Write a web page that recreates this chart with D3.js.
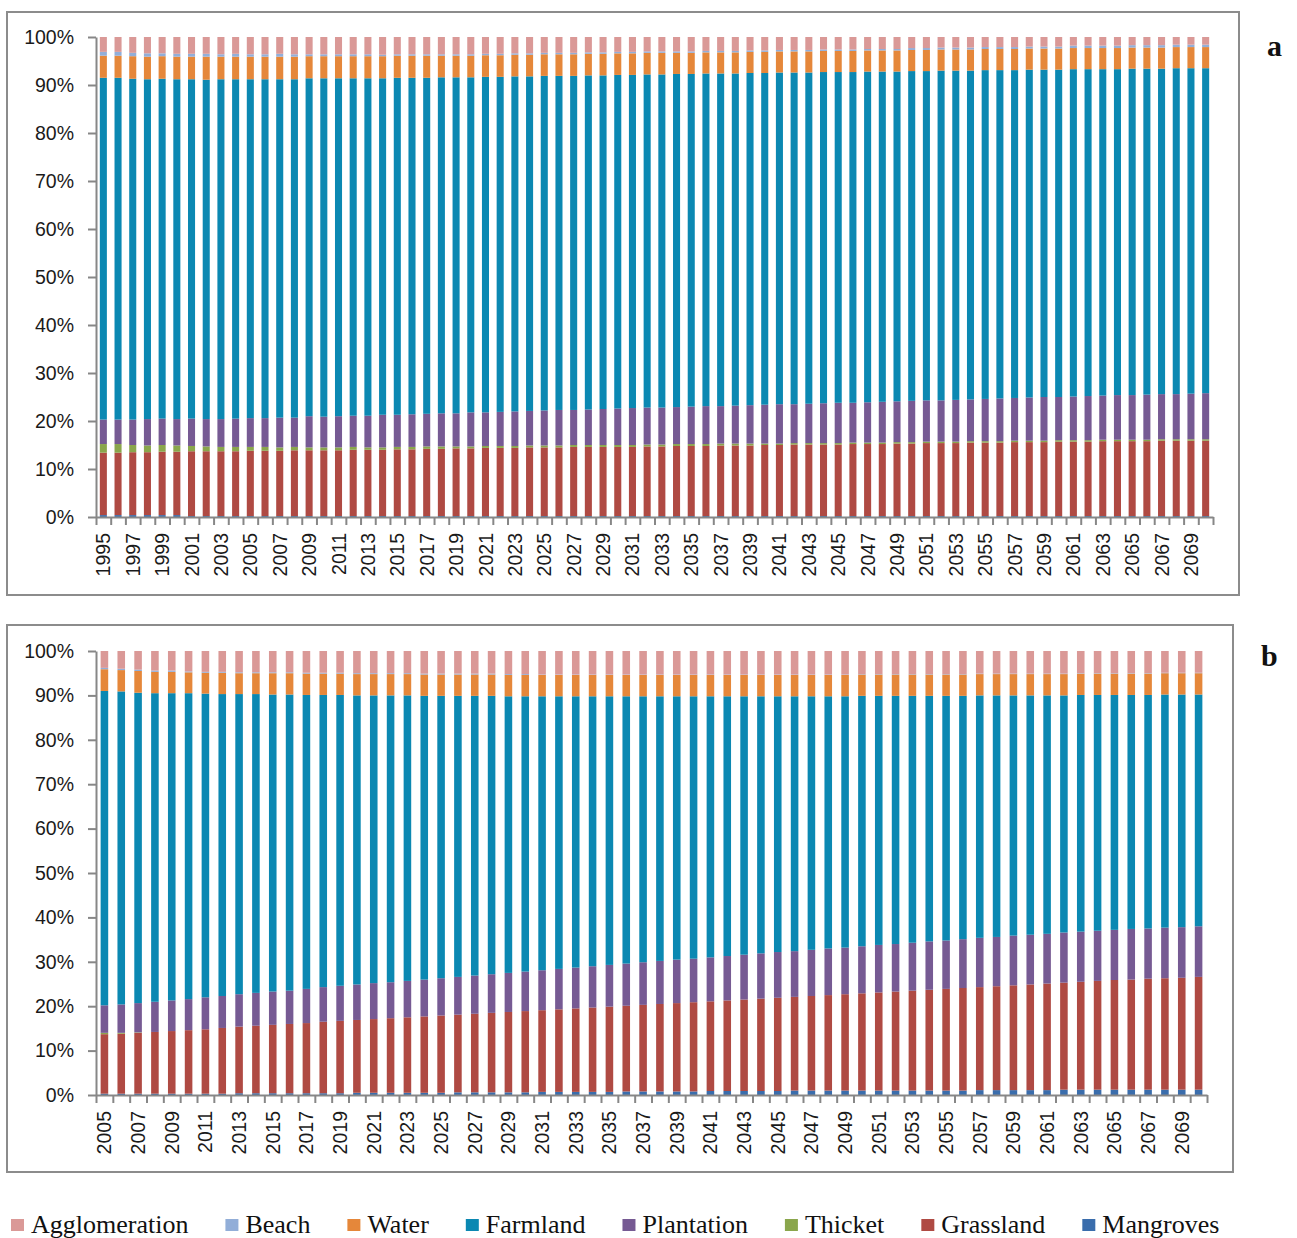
<!DOCTYPE html>
<html>
<head>
<meta charset="utf-8">
<title>Land use shares</title>
<script src="https://cdn.jsdelivr.net/npm/d3@7"></script>
<style>
body{margin:0;background:#fff;}
svg{display:block;}
</style>
</head>
<body>
<div id="chart"></div>
<script>
var W=1297,H=1238;

// stacking order, bottom to top
var keys=['Mangroves','Grassland','Thicket','Plantation','Farmland','Water','Beach','Agglomeration'];
var legendOrder=['Agglomeration','Beach','Water','Farmland','Plantation','Thicket','Grassland','Mangroves'];
var colors={
  Agglomeration:'#DA9997',
  Beach:'#92AED8',
  Water:'#E5873A',
  Farmland:'#0B88B2',
  Plantation:'#765A93',
  Thicket:'#8AA64C',
  Grassland:'#AF4A43',
  Mangroves:'#3A6DAC'
};

// ---- panel a : 1995-2070 ----
var yearsA=d3.range(1995,2071);
var mangrovesA=[0.4,0.4,0.4,0.4,0.4,0.4,0.2,0.2,0.2,0.2,
  0.2,0.2,0.2,0.2,0.2,0.2,0.2,0.2,0.2,0.2,
  0.2,0.2,0.2,0.2,0.2,0.2,0.2,0.2,0.2,0.2,
  0.2,0.2,0.2,0.2,0.2,0.2,0.2,0.2,0.2,0.2,
  0.2,0.2,0.2,0.2,0.2,0.2,0.2,0.2,0.2,0.2,
  0.2,0.2,0.2,0.2,0.2,0.2,0.2,0.2,0.2,0.2,
  0.2,0.2,0.2,0.2,0.2,0.2,0.2,0.2,0.2,0.2,
  0.2,0.2,0.2,0.2,0.2,0.2];
var grasslandA=[13.0,13.0,13.1,13.1,13.2,13.2,13.5,13.5,13.5,13.5,
  13.6,13.6,13.6,13.7,13.7,13.7,13.7,13.8,13.8,13.8,
  13.9,13.9,14.0,14.0,14.1,14.1,14.2,14.2,14.2,14.3,
  14.3,14.3,14.4,14.4,14.4,14.4,14.4,14.5,14.5,14.6,
  14.6,14.6,14.7,14.7,14.7,14.8,14.8,14.9,14.9,14.9,
  14.9,15.0,15.0,15.0,15.1,15.1,15.2,15.2,15.2,15.3,
  15.3,15.3,15.4,15.4,15.4,15.5,15.5,15.5,15.6,15.6,
  15.6,15.6,15.7,15.7,15.7,15.7];
var thicketA=[1.8,1.8,1.5,1.4,1.4,1.3,1.1,1.0,0.9,0.9,
  0.8,0.8,0.7,0.7,0.6,0.6,0.6,0.6,0.5,0.5,
  0.5,0.5,0.5,0.5,0.4,0.4,0.4,0.4,0.4,0.4,
  0.4,0.4,0.4,0.4,0.4,0.4,0.4,0.4,0.4,0.4,
  0.4,0.4,0.4,0.4,0.4,0.3,0.3,0.3,0.3,0.3,
  0.3,0.3,0.3,0.3,0.3,0.3,0.3,0.3,0.3,0.3,
  0.3,0.3,0.3,0.3,0.3,0.3,0.3,0.3,0.3,0.3,
  0.3,0.3,0.3,0.3,0.3,0.3];
var plantationA=[5.1,5.1,5.3,5.5,5.5,5.5,5.7,5.7,5.8,5.9,
  6.0,6.0,6.2,6.1,6.5,6.4,6.5,6.5,6.6,6.8,
  6.7,6.8,6.8,6.9,6.9,7.1,7.0,7.1,7.2,7.2,
  7.3,7.4,7.3,7.4,7.5,7.6,7.7,7.7,7.7,7.7,
  7.8,7.9,7.8,7.9,8.0,8.1,8.2,8.1,8.2,8.3,
  8.4,8.3,8.4,8.5,8.5,8.6,8.6,8.6,8.7,8.7,
  8.8,8.9,8.9,9.0,9.1,9.0,9.1,9.2,9.2,9.3,
  9.3,9.4,9.4,9.4,9.5,9.6];
var farmlandA=[71.2,71.2,71.0,70.8,70.8,70.8,70.7,70.7,70.8,70.7,
  70.6,70.6,70.5,70.5,70.4,70.5,70.4,70.3,70.3,70.1,
  70.2,70.1,70.0,70.0,70.0,69.8,69.9,69.8,69.8,69.7,
  69.7,69.6,69.6,69.6,69.5,69.5,69.4,69.4,69.4,69.4,
  69.3,69.3,69.3,69.2,69.2,69.1,69.1,69.1,69.0,69.0,
  68.9,68.9,68.9,68.8,68.7,68.7,68.6,68.7,68.6,68.5,
  68.5,68.4,68.3,68.3,68.2,68.2,68.2,68.1,68.0,67.9,
  68.0,67.9,67.8,67.9,67.8,67.7];
var waterA=[4.6,4.6,4.7,4.7,4.7,4.7,4.7,4.8,4.7,4.7,
  4.7,4.7,4.7,4.7,4.6,4.6,4.6,4.6,4.6,4.6,
  4.6,4.6,4.6,4.5,4.5,4.5,4.5,4.5,4.5,4.5,
  4.5,4.5,4.5,4.5,4.5,4.5,4.5,4.5,4.5,4.4,
  4.4,4.4,4.4,4.4,4.4,4.4,4.4,4.4,4.4,4.4,
  4.4,4.4,4.4,4.4,4.4,4.4,4.4,4.4,4.4,4.4,
  4.4,4.4,4.4,4.4,4.4,4.4,4.4,4.4,4.4,4.4,
  4.4,4.4,4.4,4.4,4.4,4.4];
var beachA=[0.8,0.8,0.7,0.7,0.6,0.6,0.6,0.6,0.5,0.6,
  0.5,0.5,0.6,0.5,0.4,0.4,0.4,0.4,0.4,0.3,
  0.3,0.3,0.3,0.3,0.3,0.3,0.3,0.3,0.3,0.3,
  0.3,0.3,0.3,0.3,0.3,0.3,0.3,0.3,0.3,0.3,
  0.3,0.3,0.3,0.3,0.3,0.3,0.3,0.3,0.3,0.3,
  0.3,0.3,0.3,0.3,0.3,0.4,0.4,0.4,0.4,0.4,
  0.4,0.4,0.4,0.4,0.4,0.4,0.5,0.5,0.5,0.5,
  0.5,0.5,0.5,0.5,0.5,0.5];
var agglomerationA=[3.1,3.1,3.3,3.4,3.4,3.5,3.5,3.5,3.6,3.5,
  3.6,3.6,3.5,3.6,3.6,3.6,3.6,3.6,3.6,3.7,
  3.6,3.6,3.6,3.6,3.6,3.6,3.5,3.5,3.4,3.4,
  3.3,3.3,3.3,3.2,3.2,3.1,3.1,3.0,3.0,3.0,
  3.0,2.9,2.9,2.9,2.8,2.8,2.7,2.7,2.7,2.6,
  2.6,2.6,2.5,2.5,2.5,2.3,2.3,2.2,2.2,2.2,
  2.1,2.1,2.1,2.0,2.0,2.0,1.8,1.8,1.8,1.8,
  1.7,1.7,1.7,1.6,1.6,1.6];

// ---- panel b : 2005-2070 ----
var yearsB=d3.range(2005,2071);
var mangrovesB=[0.3,0.3,0.3,0.3,0.3,0.3,0.3,0.3,0.4,0.4,
  0.4,0.4,0.4,0.4,0.4,0.5,0.5,0.5,0.5,0.5,
  0.5,0.6,0.6,0.6,0.6,0.6,0.7,0.7,0.7,0.7,
  0.7,0.8,0.8,0.8,0.8,0.8,0.9,0.9,0.9,0.9,
  0.9,1.0,1.0,1.0,1.0,1.0,1.0,1.0,1.0,1.0,
  1.0,1.0,1.1,1.1,1.1,1.1,1.1,1.2,1.2,1.2,
  1.2,1.2,1.2,1.2,1.2,1.2];
var grasslandB=[13.4,13.5,13.7,13.9,14.1,14.3,14.5,14.8,15.0,15.2,
  15.4,15.6,15.8,16.1,16.3,16.4,16.6,16.8,17.0,17.2,
  17.4,17.5,17.7,17.9,18.1,18.3,18.4,18.6,18.8,19.0,
  19.2,19.3,19.5,19.7,19.9,20.1,20.2,20.4,20.6,20.8,
  21.0,21.1,21.3,21.5,21.7,21.9,22.1,22.3,22.5,22.7,
  22.9,23.1,23.2,23.4,23.6,23.8,24.0,24.1,24.3,24.5,
  24.7,24.8,25.0,25.1,25.2,25.4];
var thicketB=[0.3,0.2,0.1,0,0,0,0,0,0,0,
  0,0,0,0,0,0,0,0,0,0,
  0,0,0,0,0,0,0,0,0,0,
  0,0,0,0,0,0,0,0,0,0,
  0,0,0,0,0,0,0,0,0,0,
  0,0,0,0,0,0,0,0,0,0,
  0,0,0,0,0,0];
var plantationB=[6.2,6.4,6.6,6.8,6.9,7.0,7.2,7.2,7.3,7.4,
  7.5,7.5,7.7,7.8,7.9,8.0,8.1,8.1,8.2,8.3,
  8.4,8.5,8.6,8.7,8.8,8.9,9.0,9.1,9.2,9.3,
  9.4,9.5,9.6,9.7,9.8,9.8,9.9,10.0,10.1,10.2,
  10.3,10.3,10.4,10.5,10.5,10.6,10.7,10.7,10.8,10.9,
  10.9,11.0,11.1,11.1,11.2,11.2,11.2,11.3,11.3,11.3,
  11.3,11.4,11.3,11.4,11.4,11.4];
var farmlandB=[70.8,70.5,69.9,69.5,69.2,68.9,68.4,68.0,67.6,67.3,
  66.9,66.7,66.2,65.8,65.5,65.1,64.8,64.6,64.3,63.9,
  63.6,63.3,63.0,62.7,62.3,62.0,61.7,61.4,61.1,60.8,
  60.5,60.2,59.9,59.6,59.3,59.1,58.8,58.5,58.2,57.9,
  57.6,57.4,57.1,56.8,56.6,56.4,56.1,55.9,55.6,55.3,
  55.1,54.8,54.6,54.4,54.1,53.9,53.7,53.4,53.3,53.1,
  52.9,52.7,52.6,52.5,52.4,52.2];
var waterB=[4.9,4.8,4.9,4.8,4.8,4.7,4.7,4.8,4.7,4.7,
  4.8,4.8,4.8,4.8,4.8,4.8,4.8,4.8,4.8,4.8,
  4.8,4.8,4.8,4.8,4.8,4.8,4.8,4.8,4.8,4.8,
  4.8,4.8,4.8,4.8,4.8,4.8,4.8,4.8,4.8,4.8,
  4.8,4.8,4.8,4.8,4.8,4.8,4.8,4.8,4.8,4.8,
  4.8,4.8,4.8,4.8,4.8,4.8,4.8,4.8,4.8,4.8,
  4.8,4.8,4.8,4.8,4.8,4.8];
var beachB=[0.3,0.3,0.3,0.3,0.3,0.2,0.2,0.2,0.2,0.2,
  0.2,0.2,0.2,0.2,0.2,0.2,0.2,0.2,0.2,0.2,
  0.2,0.2,0.2,0.2,0.2,0.2,0.1,0.1,0.1,0.1,
  0.1,0.1,0.1,0.1,0.1,0.1,0.1,0.1,0.1,0.1,
  0.1,0.1,0.1,0.1,0.1,0.1,0.1,0.1,0.1,0.1,
  0.1,0.1,0.1,0.1,0.1,0.1,0.1,0.1,0.1,0.1,
  0.1,0.1,0.1,0.1,0.1,0.1];
var agglomerationB=[3.8,4.0,4.2,4.4,4.4,4.6,4.7,4.7,4.8,4.8,
  4.8,4.8,4.9,4.9,4.9,5.0,5.0,5.0,5.0,5.1,
  5.1,5.1,5.1,5.1,5.2,5.2,5.3,5.3,5.3,5.3,
  5.3,5.3,5.3,5.3,5.3,5.3,5.3,5.3,5.3,5.3,
  5.3,5.3,5.3,5.3,5.3,5.2,5.2,5.2,5.2,5.2,
  5.2,5.2,5.1,5.1,5.1,5.1,5.1,5.1,5.0,5.0,
  5.0,5.0,5.0,4.9,4.9,4.9];

var yTicks=[0,0.1,0.2,0.3,0.4,0.5,0.6,0.7,0.8,0.9,1];

function rowsOf(years,s){
  return years.map(function(yr,i){
    return {year:yr,Mangroves:s[0][i],Grassland:s[1][i],Thicket:s[2][i],Plantation:s[3][i],
      Farmland:s[4][i],Water:s[5][i],Beach:s[6][i],Agglomeration:s[7][i]};
  });
}

var svg=d3.select('#chart').append('svg').attr('width',W).attr('height',H);
svg.append('rect').attr('width',W).attr('height',H).attr('fill','#fff');

var axisColor='#878787';
var sansFont='"Liberation Sans", Arial, sans-serif';
var serifFont='"Liberation Serif", "Times New Roman", serif';

function drawPanel(p){
  // outer frame
  svg.append('rect')
     .attr('x',p.frame[0]).attr('y',p.frame[1])
     .attr('width',p.frame[2]).attr('height',p.frame[3])
     .attr('fill','none').attr('stroke','#8c8c8c').attr('stroke-width',2);

  var x=d3.scaleBand().domain(p.years).range([p.left,p.right])
          .paddingInner(p.pad).paddingOuter(p.pad/2);
  var y=d3.scaleLinear().domain([0,1]).range([p.bottom,p.top]);
  var series=d3.stack().keys(keys).offset(d3.stackOffsetExpand)(p.rows);

  svg.append('g').selectAll('g').data(series).join('g')
     .attr('fill',function(d){return colors[d.key];})
     .selectAll('rect').data(function(d){return d;}).join('rect')
     .attr('x',function(d){return x(d.data.year);})
     .attr('y',function(d){return y(d[1]);})
     .attr('width',x.bandwidth())
     .attr('height',function(d){return y(d[0])-y(d[1]);});

  // y axis
  var ya=svg.append('g').attr('transform','translate('+p.left+',0)')
     .call(d3.axisLeft(y).tickValues(yTicks).tickFormat(d3.format('.0%')).tickSize(8).tickPadding(14).tickSizeOuter(0));
  ya.select('.domain').attr('stroke',axisColor).attr('stroke-width',2);
  ya.selectAll('.tick line').attr('stroke',axisColor).attr('stroke-width',2);
  ya.selectAll('.tick text').attr('font-family',sansFont).attr('font-size',19.5).attr('fill','#1a1a1a');

  // x axis: ticks between categories
  var edge=d3.scaleLinear().domain([0,p.years.length]).range([p.left,p.right]);
  var xa=svg.append('g').attr('transform','translate(0,'+p.bottom+')')
     .call(d3.axisBottom(edge).tickValues(d3.range(p.years.length+1)).tickFormat('').tickSize(8).tickSizeOuter(0));
  xa.select('.domain').attr('stroke',axisColor).attr('stroke-width',2);
  xa.selectAll('.tick line').attr('stroke',axisColor).attr('stroke-width',2);

  svg.append('g').selectAll('text').data(p.years.filter(function(d,i){return i%2===0;})).join('text')
     .attr('transform',function(d){return 'translate('+(x(d)+x.bandwidth()/2)+','+(p.bottom+16)+') rotate(-90)';})
     .attr('text-anchor','end').attr('dy','0.36em')
     .attr('font-family',sansFont).attr('font-size',19.5).attr('fill','#1a1a1a')
     .text(function(d){return d;});

  svg.append('text').attr('x',p.tag[0]).attr('y',p.tag[1])
     .attr('font-family',serifFont).attr('font-weight','bold').attr('font-size',30)
     .attr('fill','#111').text(p.label);
}

drawPanel({
  label:'a', tag:[1267,56],
  frame:[7,12,1232,583],
  left:96,right:1213,top:37,bottom:517,pad:0.52,
  years:yearsA,
  rows:rowsOf(yearsA,[mangrovesA,grasslandA,thicketA,plantationA,farmlandA,waterA,beachA,agglomerationA])
});

drawPanel({
  label:'b', tag:[1261,666],
  frame:[7,625,1226,547],
  left:96,right:1207,top:651,bottom:1095,pad:0.55,
  years:yearsB,
  rows:rowsOf(yearsB,[mangrovesB,grasslandB,thicketB,plantationB,farmlandB,waterB,beachB,agglomerationB])
});

// legend
var lg=svg.append('g');
var lx=11;
legendOrder.forEach(function(k){
  lg.append('rect').attr('x',lx).attr('y',1219).attr('width',13).attr('height',12).attr('fill',colors[k]);
  var t=lg.append('text').attr('x',lx+20).attr('y',1233)
     .attr('font-family',serifFont).attr('font-size',26).attr('fill','#111').text(k);
  lx+=20+t.node().getComputedTextLength()+37;
});
</script>
</body>
</html>
